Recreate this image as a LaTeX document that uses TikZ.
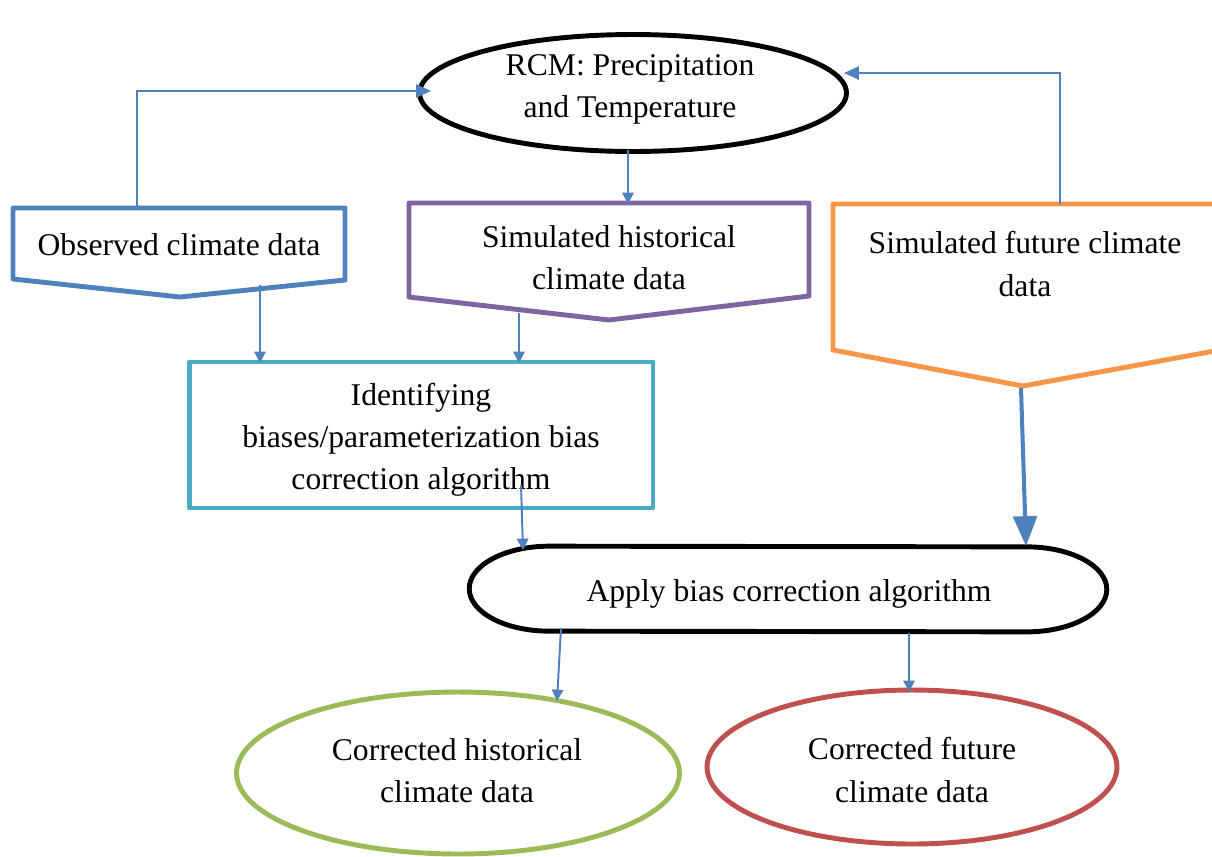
\documentclass[tikz,border=0pt]{standalone}
\usepackage{fontspec}
\setmainfont{Liberation Serif}
\usetikzlibrary{arrows.meta,shapes.geometric}
\definecolor{cblue}{HTML}{4F81BD}
\definecolor{cpurple}{HTML}{8064A2}
\definecolor{corange}{HTML}{F79646}
\definecolor{cteal}{HTML}{4BACC6}
\definecolor{cgreen}{HTML}{9BBB59}
\definecolor{cred}{HTML}{C0504D}
\begin{document}
\begin{tikzpicture}[x=0.02cm,y=-0.02cm,
  txt/.style={align=center,font=\fontsize{18}{24}\selectfont,inner sep=0pt},
  shapeline/.style={line width=2.8pt,line join=round},
  conn/.style={draw=cblue,line width=1.1pt,-{Triangle[length=6.5pt,width=6.5pt]}},
  bigconn/.style={draw=cblue,line width=1.1pt,-{Triangle[length=8.5pt,width=7.5pt]}},
  thickconn/.style={draw=cblue,line width=2.3pt,-{Triangle[length=17pt,width=13.5pt]}}]
\useasboundingbox (0,0) rectangle (1212,856);

% RCM ellipse
\node[ellipse, draw=black, shapeline, minimum width=8.54cm, minimum height=2.34cm, txt] (rcm) at (633,93) {};
\node[txt] (rcmtxt) at (630,89) {RCM: Precipitation\\and Temperature};

% Observed climate data
\draw[shapeline, draw=cblue] (13,208) -- (345,208) -- (345,280) -- (180,297) -- (13,279) -- cycle;
\node[txt] (obs) at (179,245) {Observed climate data};

% Simulated historical
\draw[shapeline, draw=cpurple] (409,203) -- (809,203) -- (809,296) -- (609,320) -- (409,297) -- cycle;
\node[txt] (sim) at (609,258) {Simulated historical\\climate data};

% Simulated future
\draw[shapeline, draw=corange] (833,204) -- (1220,204) -- (1220,350) -- (1023,386) -- (833,350) -- cycle;
\node[txt] (fut) at (1025,264) {Simulated future climate\\data};

% Identifying
\node[draw=cteal, shapeline, rectangle, minimum width=9.28cm, minimum height=2.92cm] (idbox) at (421,435) {};
\node[txt] (id) at (421,440) {Identifying\\biases/parameterization bias\\correction algorithm};

% Apply
\node[minimum width=12.74cm, minimum height=1.7cm, inner sep=0pt] (apply) at (788,589) {};
\draw[shapeline] ([xshift=1.6cm]apply.north west) arc[start angle=90, end angle=270, x radius=1.6cm, y radius=0.85cm]
  -- ([xshift=-1.6cm]apply.south east) arc[start angle=-90, end angle=90, x radius=1.6cm, y radius=0.85cm] -- cycle;
\node[txt] (applytxt) at (789,594) {Apply bias correction algorithm};

% Corrected ellipses
\node[ellipse, draw=cgreen, shapeline, minimum width=8.86cm, minimum height=3.24cm] (ch) at (458,773) {};
\node[txt] (chtxt) at (457,771) {Corrected historical\\climate data};
\node[ellipse, draw=cred, shapeline, minimum width=8.2cm, minimum height=3.08cm] (cf) at (912,767) {};
\node[txt] (cftxt) at (912,770) {Corrected future\\climate data};

% connector end points
\coordinate (obsTop) at (137,208);
\coordinate (rcmW) at (431,91);
\coordinate (futTop) at (1060,204);
\coordinate (rcmE) at (844,73);
\coordinate (rcmS) at (628,150);
\coordinate (simN) at (628,204);
\coordinate (obsS) at (260,285);
\coordinate (idA) at (260,363);
\coordinate (simS) at (519,313);
\coordinate (idB) at (519,363);
\coordinate (idS) at (521,485);
\coordinate (apN) at (523,550);
\coordinate (futS) at (1021,388);
\coordinate (apNE) at (1026,546);
\coordinate (apSW) at (561,628);
\coordinate (chN) at (557,701);
\coordinate (apSE) at (909,633);
\coordinate (cfN) at (909,692);

% connectors
\draw[bigconn] (obsTop) |- (rcmW);
\draw[bigconn] (futTop) |- (rcmE);
\draw[conn] (rcmS) -- (simN);
\draw[conn] (obsS) -- (idA);
\draw[conn] (simS) -- (idB);
\draw[conn] (idS) -- (apN);
\draw[thickconn] (futS) -- (apNE);
\draw[conn] (apSW) -- (chN);
\draw[conn] (apSE) -- (cfN);
\end{tikzpicture}
\end{document}
